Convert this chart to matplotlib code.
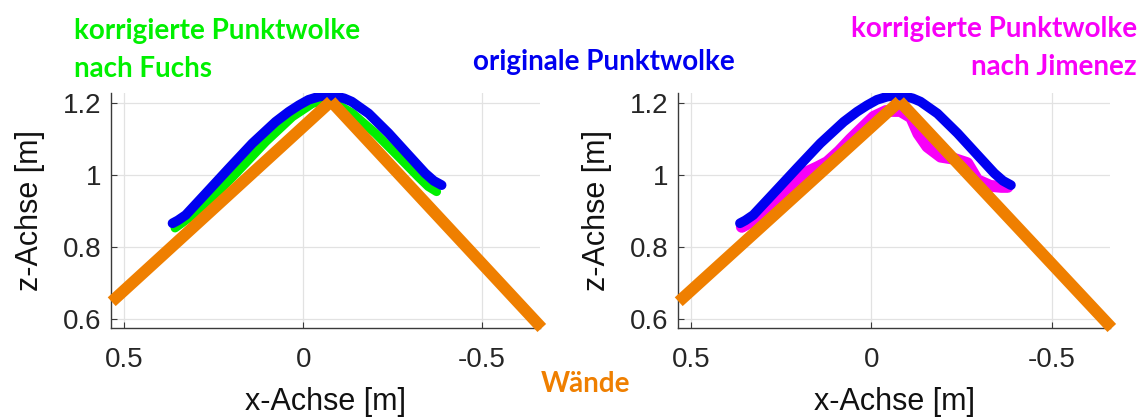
import matplotlib
matplotlib.use("Agg")
import matplotlib.pyplot as plt

# wall model (two planes meeting at the ridge), x/z in metres
wall_x = [0.535, -0.078, -0.667]
wall_z = [0.648, 1.205, 0.575]

# original point cloud (centre line of the scan band)
orig_x = [0.365, 0.350, 0.328, 0.272, 0.207, 0.142, 0.077, 0.040, 0.012, -0.015,
          -0.044, -0.068, -0.090, -0.115, -0.136, -0.183, -0.239, -0.294, -0.341,
          -0.365, -0.387]
orig_z = [0.866, 0.874, 0.889, 0.949, 1.019, 1.088, 1.148, 1.176, 1.194, 1.209,
          1.218, 1.221, 1.219, 1.213, 1.204, 1.171, 1.116, 1.056, 1.005, 0.984,
          0.972]

# corrected cloud, Fuchs method
fuchs_x = [0.358, 0.289, 0.197, 0.104, 0.030, -0.026, -0.055, -0.081, -0.137,
           -0.202, -0.267, -0.322, -0.350, -0.373]
fuchs_z = [0.853, 0.903, 0.995, 1.093, 1.162, 1.199, 1.206, 1.204, 1.172,
           1.116, 1.051, 0.995, 0.968, 0.954]

# corrected cloud, Jimenez method
jim_x = [0.360, 0.330, 0.290, 0.250, 0.215, 0.180, 0.150, 0.123, 0.090, 0.058,
         0.025, -0.006, -0.040, -0.080, -0.110, -0.130, -0.155, -0.192, -0.230,
         -0.266, -0.294, -0.330, -0.360, -0.378]
jim_z = [0.856, 0.872, 0.898, 0.930, 0.980, 1.008, 1.022, 1.036, 1.066, 1.100,
         1.132, 1.162, 1.178, 1.178, 1.160, 1.115, 1.079, 1.051, 1.045, 1.033,
         0.986, 0.970, 0.967, 0.967]

x_ticks = [0.5, 0, -0.5]
x_ticklabels = ["0.5", "0", "-0.5"]
z_ticks = [0.6, 0.8, 1.0, 1.2]
z_ticklabels = ["0.6", "0.8", "1", "1.2"]

ORANGE = "#EF7F00"
BLUE = "#0000F0"
GREEN = "#00F000"
MAGENTA = "#F800F8"

plt.rcParams["font.family"] = ["Liberation Sans", "DejaVu Sans"]

W, H = 1142, 419
fig = plt.figure(figsize=(W / 100, H / 100), dpi=100)


def px_axes(left, top, right, bottom):
  return fig.add_axes([left / W, 1 - bottom / H, (right - left) / W, (bottom - top) / H])


def style_axes(ax):
  ax.set_xlim(0.537, -0.662)
  ax.set_ylim(0.575, 1.228)
  ax.set_xticks(x_ticks)
  ax.set_xticklabels(x_ticklabels)
  ax.set_yticks(z_ticks)
  ax.set_yticklabels(z_ticklabels)
  for s in ["top", "right"]:
    ax.spines[s].set_visible(False)
  for s in ["left", "bottom"]:
    ax.spines[s].set_color("#3a3a3a")
    ax.spines[s].set_linewidth(1.0)
  ax.tick_params(axis="both", direction="in", length=4, width=0.8, color="#3a3a3a",
                 labelsize=20, labelcolor="#262626")
  ax.tick_params(axis="x", pad=14)
  ax.tick_params(axis="y", pad=7)
  ax.grid(True, color="#e2e2e2", linewidth=0.9)
  ax.set_axisbelow(True)
  ax.set_xlabel("x-Achse [m]", fontsize=22, color="#111111", labelpad=10)
  ax.set_ylabel("z-Achse [m]", fontsize=22, color="#111111", labelpad=13)


def draw_walls(ax):
  # two separate wall segments, butt ends meet at the ridge
  ax.plot(wall_x[:2], wall_z[:2], color=ORANGE, lw=8.5, solid_capstyle="butt",
          clip_on=False, zorder=5)
  ax.plot(wall_x[1:], wall_z[1:], color=ORANGE, lw=8.5, solid_capstyle="butt",
          clip_on=False, zorder=5)


ax1 = px_axes(111, 93, 540, 328)
style_axes(ax1)
ax1.plot(fuchs_x, fuchs_z, color=GREEN, lw=6.5, solid_capstyle="round",
         solid_joinstyle="round", zorder=3)
ax1.plot(orig_x, orig_z, color=BLUE, lw=7, solid_capstyle="round",
         solid_joinstyle="round", zorder=4)
draw_walls(ax1)

ax2 = px_axes(678, 93, 1110, 328)
style_axes(ax2)
ax2.plot(jim_x, jim_z, color=MAGENTA, lw=8.5, solid_capstyle="round",
         solid_joinstyle="round", zorder=3)
ax2.plot(orig_x, orig_z, color=BLUE, lw=7, solid_capstyle="round",
         solid_joinstyle="round", zorder=4)
draw_walls(ax2)

# annotations above / between the panels
lbl = dict(family=["Lato", "DejaVu Sans"], weight="bold", fontsize=20, va="baseline")
fig.text(74 / W, 1 - 39 / H, "korrigierte Punktwolke", color=GREEN, ha="left", **lbl)
fig.text(74 / W, 1 - 77 / H, "nach Fuchs", color=GREEN, ha="left", **lbl)
fig.text(604 / W, 1 - 70 / H, "originale Punktwolke", color=BLUE, ha="center", **lbl)
fig.text(1137 / W, 1 - 37 / H, "korrigierte Punktwolke", color=MAGENTA, ha="right", **lbl)
fig.text(1137 / W, 1 - 75 / H, "nach Jimenez", color=MAGENTA, ha="right", **lbl)
fig.text(586 / W, 1 - 392 / H, "Wände", color=ORANGE, ha="center", **lbl)

fig.savefig("out.png", dpi=100)
